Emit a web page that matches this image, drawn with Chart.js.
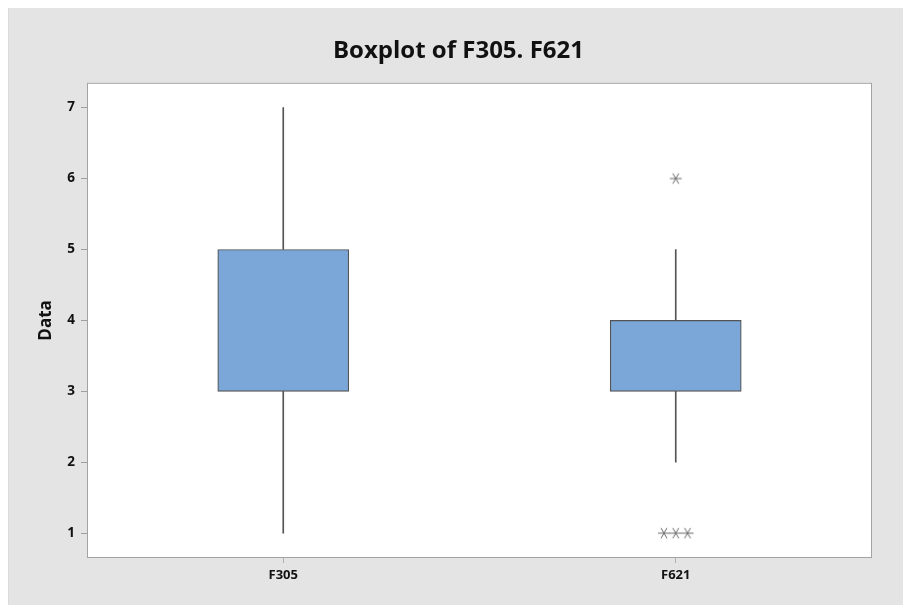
<!DOCTYPE html>
<html>
<head>
<meta charset="utf-8">
<script src="https://cdn.jsdelivr.net/npm/chart.js@4/dist/chart.umd.min.js"></script>
<style>
  html, body { margin: 0; padding: 0; background: #ffffff; }
  canvas { display: block; }
</style>
</head>
<body>
<canvas id="chart" width="903" height="605"></canvas>
<script>
const categories = ["F305", "F621"];
const q1 = [3, 3];
const q3 = [5, 4];
const whiskerLow = [1, 2];
const whiskerHigh = [7, 5];
const outlierCat = [2, 2, 2, 2];
const outlierJitter = [0, -0.03, 0, 0.03];
const outlierValues = [6, 1, 1, 1];
const yTicks = [1, 2, 3, 4, 5, 6, 7];

const FONT = "'Open Sans', 'Noto Sans', sans-serif";

// asterisco de 6 bracos (estilo Minitab)
function makeStar() {
  const c = document.createElement("canvas");
  c.width = 14; c.height = 14;
  const g = c.getContext("2d");
  g.strokeStyle = "#6a6a6a";
  g.lineWidth = 1;
  const r = 6;
  for (const a of [0, 60, 120]) {
    const rad = a * Math.PI / 180;
    g.beginPath();
    g.moveTo(7 - r * Math.cos(rad), 7 - r * Math.sin(rad));
    g.lineTo(7 + r * Math.cos(rad), 7 + r * Math.sin(rad));
    g.stroke();
  }
  return c;
}

const background = {
  id: "background",
  beforeDraw(chart) {
    const { ctx, chartArea: a } = chart;
    ctx.save();
    ctx.fillStyle = "#ffffff";
    ctx.fillRect(0, 0, chart.width, chart.height);
    ctx.fillStyle = "#e4e4e4";
    ctx.fillRect(8, 8, chart.width - 8, chart.height - 8);
    ctx.fillStyle = "#dadada";
    ctx.fillRect(8, 8, 1, chart.height - 8);
    ctx.fillStyle = "#ffffff";
    ctx.fillRect(a.left, a.top, a.right - a.left, a.bottom - a.top);
    ctx.restore();
  },
  afterDraw(chart) {
    const { ctx, chartArea: a } = chart;
    ctx.save();
    ctx.strokeStyle = "#a3a3a3";
    ctx.lineWidth = 1;
    ctx.strokeRect(a.left + 0.5, a.top + 0.5, a.right - a.left - 1, a.bottom - a.top - 1);
    ctx.restore();
  }
};

new Chart(document.getElementById("chart").getContext("2d"), {
  type: "bar",
  data: {
    labels: categories,
    datasets: [
      {
        label: "whisker high",
        data: q3.map((v, i) => [v, whiskerHigh[i]]),
        backgroundColor: "#555555",
        barThickness: 1,
        grouped: false,
        order: 3
      },
      {
        label: "whisker low",
        data: q1.map((v, i) => [whiskerLow[i], v]),
        backgroundColor: "#555555",
        barThickness: 1,
        grouped: false,
        order: 3
      },
      {
        label: "box",
        data: q1.map((v, i) => [v, q3[i]]),
        backgroundColor: "#7ba6d8",
        borderColor: "#545454",
        borderWidth: 1.2,
        borderSkipped: false,
        barThickness: 131,
        grouped: false,
        order: 2
      },
      {
        type: "scatter",
        label: "outliers",
        xAxisID: "x2",
        data: outlierValues.map((v, i) => ({ x: outlierCat[i] + outlierJitter[i], y: v })),
        pointStyle: makeStar(),
        pointRadius: 6,
        order: 1
      }
    ]
  },
  options: {
    responsive: false,
    animation: false,
    layout: { padding: { left: 14, right: 0, top: 0, bottom: 0 } },
    plugins: {
      legend: { display: false },
      tooltip: { enabled: false },
      title: {
        display: true,
        text: "Boxplot of F305. F621",
        color: "#111111",
        font: { family: FONT, size: 24, weight: "bold", lineHeight: 1.2 },
        padding: { top: 37, bottom: 17 }
      }
    },
    scales: {
      x: {
        type: "category",
        offset: true,
        grid: { offset: false, drawOnChartArea: false, tickLength: 5, tickColor: "#b0b0b0" },
        border: { display: false },
        ticks: { color: "#111111", padding: 4, font: { family: FONT, size: 13, weight: "bold" } },
        afterFit(s) { s.height = 47; }
      },
      x2: {
        type: "linear",
        display: false,
        offset: false,
        min: 0.5,
        max: 2.5
      },
      y: {
        min: 0.65,
        max: 7.35,
        grid: { drawOnChartArea: false, tickLength: 6, tickColor: "#a0a0a0" },
        border: { display: false },
        afterBuildTicks(s) { s.ticks = yTicks.map(v => ({ value: v })); },
        ticks: { color: "#111111", padding: 6, font: { family: FONT, size: 13.5, weight: "bold" } },
        title: {
          display: true,
          text: "Data",
          color: "#111111",
          font: { family: FONT, size: 17, weight: "bold", lineHeight: 1.2 },
          padding: { top: 22, bottom: 0 }
        },
        afterFit(s) { s.width = 73; }
      },
      yRight: {
        position: "right",
        display: true,
        grid: { display: false },
        border: { display: false },
        ticks: { display: false },
        afterFit(s) { s.width = 31; }
      }
    }
  },
  plugins: [background]
});
</script>
</body>
</html>
